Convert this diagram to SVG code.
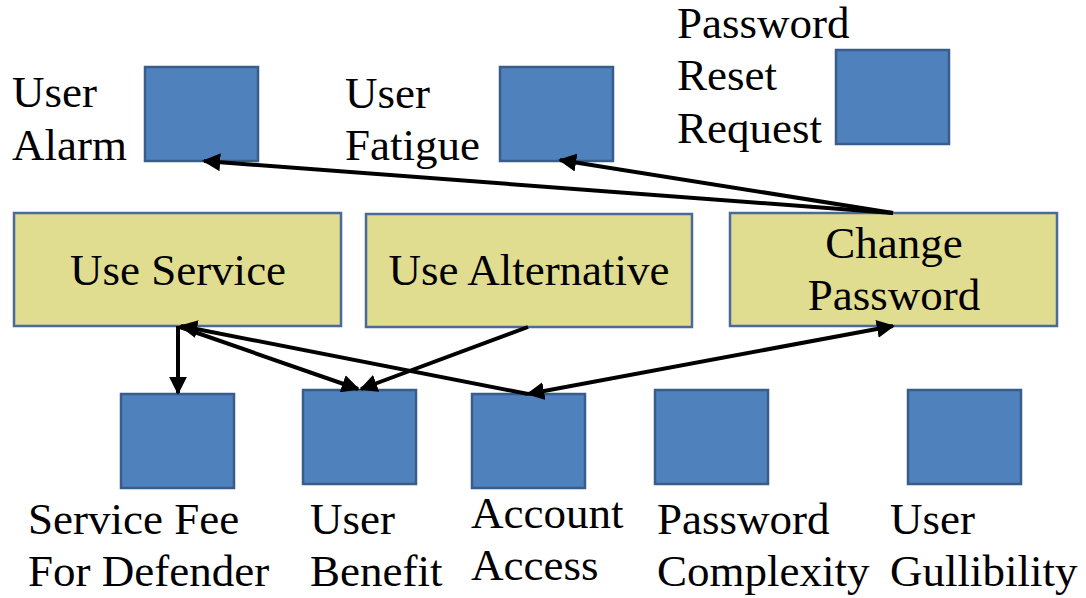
<svg xmlns="http://www.w3.org/2000/svg" width="1086" height="598" viewBox="0 0 1086 598">
<defs>
<style>
.b{fill:#4f81bd;stroke:#385d8a;stroke-width:2.5}
.y{fill:#e0dd91;stroke:#4a6a9a;stroke-width:2.5}
.t{font-family:"Liberation Serif",serif;font-size:45px;fill:#000}
.m{text-anchor:middle}
.c{stroke:#000;stroke-width:4;fill:none}
</style>
<marker id="ah" viewBox="0 0 10 10" refX="9" refY="5" markerWidth="4.5" markerHeight="4.5" orient="auto-start-reverse" markerUnits="strokeWidth">
<path d="M0,0 L10,5 L0,10 z" fill="#000"/>
</marker>
</defs>
<rect width="1086" height="598" fill="#fff"/>
<g id="user-alarm"><rect class="b" x="145" y="67" width="113" height="94"/><text class="t" x="12" y="107">User</text><text class="t" x="12" y="160">Alarm</text></g>
<g id="user-fatigue"><rect class="b" x="500" y="67" width="113" height="94"/><text class="t" x="345" y="108">User</text><text class="t" x="345" y="160">Fatigue</text></g>
<g id="password-reset-request"><rect class="b" x="836" y="50" width="113" height="94"/><text class="t" x="677" y="38">Password</text><text class="t" x="677" y="90">Reset</text><text class="t" x="677" y="143">Request</text></g>
<g id="use-service"><rect class="y" x="14" y="213" width="327" height="113"/><text class="t m" x="178" y="285">Use Service</text></g>
<g id="use-alternative"><rect class="y" x="366" y="214" width="326" height="113"/><text class="t m" x="529" y="285">Use Alternative</text></g>
<g id="change-password"><rect class="y" x="730" y="213" width="327" height="113"/><text class="t m" x="894" y="258">Change</text><text class="t m" x="894" y="310">Password</text></g>
<g id="service-fee"><rect class="b" x="121" y="394" width="113" height="94"/><text class="t" x="28" y="534">Service Fee</text><text class="t" x="28" y="586">For Defender</text></g>
<g id="user-benefit"><rect class="b" x="303" y="390" width="113" height="94"/><text class="t" x="310" y="534">User</text><text class="t" x="310" y="586">Benefit</text></g>
<g id="account-access"><rect class="b" x="472" y="394" width="113" height="94"/><text class="t" x="471" y="528">Account</text><text class="t" x="471" y="580">Access</text></g>
<g id="password-complexity"><rect class="b" x="655" y="390" width="113" height="94"/><text class="t" x="657" y="534">Password</text><text class="t" x="657" y="586">Complexity</text></g>
<g id="user-gullibility"><rect class="b" x="908" y="390" width="113" height="94"/><text class="t" x="890" y="534">User</text><text class="t" x="890" y="586">Gullibility</text></g>
<g id="connectors">
<line class="c" x1="893" y1="213" x2="204" y2="161" marker-end="url(#ah)"/>
<line class="c" x1="893" y1="213" x2="560" y2="160" marker-end="url(#ah)"/>
<line class="c" x1="178" y1="326" x2="178" y2="393" marker-end="url(#ah)"/>
<line class="c" x1="180" y1="327" x2="358" y2="389" marker-end="url(#ah)"/>
<line class="c" x1="528" y1="327" x2="361" y2="389" marker-end="url(#ah)"/>
<line class="c" x1="528" y1="394" x2="181" y2="326" marker-end="url(#ah)"/>
<line class="c" x1="528" y1="394" x2="893" y2="326" marker-start="url(#ah)" marker-end="url(#ah)"/>
</g>
</svg>
